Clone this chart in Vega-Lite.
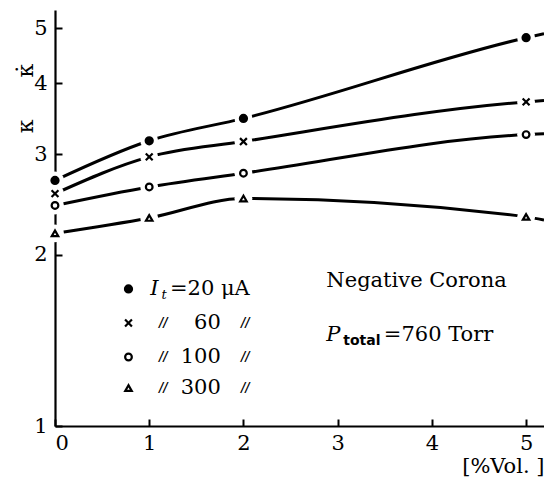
{
  "$schema": "https://vega.github.io/schema/vega-lite/v6.json",
  "width": 489,
  "height": 416,
  "autosize": {"type": "none"},
  "padding": {"left": 55, "top": 10, "right": 0, "bottom": 51},
  "background": "white",
  "config": {"view": {"stroke": null}, "font": "DejaVu Serif"},
  "datasets": {
    "curves": [
      {"s": "20", "x": 0, "k": 2.70}, {"s": "20", "x": 1, "k": 3.17}, {"s": "20", "x": 2, "k": 3.47}, {"s": "20", "x": 5, "k": 4.81}, {"s": "20", "x": 5.19, "k": 4.89},
      {"s": "60", "x": 0, "k": 2.56}, {"s": "60", "x": 1, "k": 2.97}, {"s": "60", "x": 2, "k": 3.16}, {"s": "60", "x": 5, "k": 3.71}, {"s": "60", "x": 5.19, "k": 3.73},
      {"s": "100", "x": 0, "k": 2.44}, {"s": "100", "x": 1, "k": 2.63}, {"s": "100", "x": 2, "k": 2.78}, {"s": "100", "x": 5, "k": 3.25}, {"s": "100", "x": 5.19, "k": 3.26},
      {"s": "300", "x": 0, "k": 2.18}, {"s": "300", "x": 1, "k": 2.32}, {"s": "300", "x": 2, "k": 2.51}, {"s": "300", "x": 5, "k": 2.33}, {"s": "300", "x": 5.19, "k": 2.30}
    ],
    "keys": [
      {"s": "20", "x": 0.78, "k": 1.741},
      {"s": "60", "x": 0.78, "k": 1.517},
      {"s": "100", "x": 0.78, "k": 1.322},
      {"s": "300", "x": 0.78, "k": 1.166}
    ],
    "notes": [
      {"g": "ital", "x": 1.01, "k": 1.741, "t": "I"},
      {"g": "sub", "x": 1.13, "k": 1.70, "t": "t"},
      {"g": "plain", "x": 1.22, "k": 1.741, "t": "=20 μA"},
      {"g": "ditto", "x": 1.15, "k": 1.517, "t": "//"},
      {"g": "ditto", "x": 1.15, "k": 1.322, "t": "//"},
      {"g": "ditto", "x": 1.15, "k": 1.166, "t": "//"},
      {"g": "ditto", "x": 2.02, "k": 1.517, "t": "//"},
      {"g": "ditto", "x": 2.02, "k": 1.322, "t": "//"},
      {"g": "ditto", "x": 2.02, "k": 1.166, "t": "//"},
      {"g": "num", "x": 1.76, "k": 1.517, "t": "60"},
      {"g": "num", "x": 1.76, "k": 1.322, "t": "100"},
      {"g": "num", "x": 1.76, "k": 1.166, "t": "300"},
      {"g": "plain", "x": 2.88, "k": 1.798, "t": "Negative  Corona"},
      {"g": "ital", "x": 2.88, "k": 1.445, "t": "P"},
      {"g": "subb", "x": 3.06, "k": 1.412, "t": "total"},
      {"g": "plain", "x": 3.49, "k": 1.445, "t": "=760 Torr"}
    ]
  },
  "encoding": {
    "x": {
      "field": "x", "type": "quantitative",
      "scale": {"domain": [0, 5.19], "nice": false, "zero": false},
      "axis": {
        "values": [0, 1, 2, 3, 4, 5], "grid": false, "tickSize": -7, "labelPadding": 13,
        "labelFontSize": 21, "labelColor": "black", "labelFont": "DejaVu Serif",
        "domainColor": "black", "domainWidth": 2.2, "tickColor": "black", "tickWidth": 2,
        "title": "[%Vol. ]", "titleFontSize": 21, "titleFontWeight": "normal", "titleColor": "black",
        "titleFont": "DejaVu Serif", "titleAnchor": "end", "titleAlign": "right",
        "titleX": 489, "titleY": 50, "titleBaseline": "bottom"
      }
    },
    "y": {
      "field": "k", "type": "quantitative",
      "scale": {"type": "log", "domain": [1, 5.38], "nice": false},
      "axis": {
        "values": [1, 2, 3, 4, 5], "format": "d", "grid": false, "tickSize": -7, "labelPadding": 15,
        "labelFontSize": 21, "labelColor": "black", "labelFont": "DejaVu Serif",
        "domainColor": "black", "domainWidth": 2.2, "tickColor": "black", "tickWidth": 2,
        "title": "κ\u00a0\u00a0\u00a0\u00a0\u00a0\u00a0κ̇", "titleAngle": 270, "titleFontSize": 22, "titleFontWeight": "normal",
        "titleColor": "black", "titleFont": "DejaVu Serif", "titleX": -30, "titleY": 88,
        "titleAlign": "center", "titleBaseline": "middle"
      }
    }
  },
  "layer": [
    {
      "data": {"name": "curves"},
      "mark": {"type": "line", "interpolate": "monotone", "color": "black", "strokeWidth": 3, "clip": true},
      "encoding": {"detail": {"field": "s"}}
    },
    {
      "data": {"name": "curves"},
      "transform": [{"filter": "datum.x <= 5"}],
      "mark": {"type": "point", "shape": "circle", "filled": true, "color": "white", "size": 320, "opacity": 1, "strokeWidth": 0}
    },
    {
      "data": {"name": "curves"},
      "transform": [{"filter": "datum.x <= 5"}],
      "mark": {"type": "point", "strokeWidth": 2.2, "opacity": 1, "stroke": "black"},
      "encoding": {
        "shape": {"field": "s", "type": "nominal", "legend": null,
          "scale": {"domain": ["20", "60", "100", "300"], "range": ["circle", "M-1,-1L1,1M-1,1L1,-1", "circle", "triangle-up"]}},
        "fill": {"field": "s", "type": "nominal", "legend": null,
          "scale": {"domain": ["20", "60", "100", "300"], "range": ["black", "black", "white", "white"]}},
        "size": {"field": "s", "type": "nominal", "legend": null,
          "scale": {"domain": ["20", "60", "100", "300"], "range": [50, 42, 40, 58]}}
      }
    },
    {
      "data": {"name": "keys"},
      "mark": {"type": "point", "strokeWidth": 2.2, "opacity": 1, "stroke": "black"},
      "encoding": {
        "shape": {"field": "s", "type": "nominal", "legend": null,
          "scale": {"domain": ["20", "60", "100", "300"], "range": ["circle", "M-1,-1L1,1M-1,1L1,-1", "circle", "triangle-up"]}},
        "fill": {"field": "s", "type": "nominal", "legend": null,
          "scale": {"domain": ["20", "60", "100", "300"], "range": ["black", "black", "white", "white"]}},
        "size": {"field": "s", "type": "nominal", "legend": null,
          "scale": {"domain": ["20", "60", "100", "300"], "range": [50, 42, 40, 58]}}
      }
    },
    {
      "data": {"name": "notes"},
      "transform": [{"filter": "datum.g == 'ital'"}],
      "mark": {"type": "text", "align": "left", "baseline": "middle", "fontSize": 21, "fontStyle": "italic", "font": "DejaVu Serif", "color": "black"},
      "encoding": {"text": {"field": "t"}}
    },
    {
      "data": {"name": "notes"},
      "transform": [{"filter": "datum.g == 'sub'"}],
      "mark": {"type": "text", "align": "left", "baseline": "middle", "fontSize": 13, "fontStyle": "italic", "font": "DejaVu Serif", "color": "black"},
      "encoding": {"text": {"field": "t"}}
    },
    {
      "data": {"name": "notes"},
      "transform": [{"filter": "datum.g == 'subb'"}],
      "mark": {"type": "text", "align": "left", "baseline": "middle", "fontSize": 14, "fontWeight": "bold", "font": "DejaVu Sans", "color": "black"},
      "encoding": {"text": {"field": "t"}}
    },
    {
      "data": {"name": "notes"},
      "transform": [{"filter": "datum.g == 'plain'"}],
      "mark": {"type": "text", "align": "left", "baseline": "middle", "fontSize": 21, "font": "DejaVu Serif", "color": "black"},
      "encoding": {"text": {"field": "t"}}
    },
    {
      "data": {"name": "notes"},
      "transform": [{"filter": "datum.g == 'num'"}],
      "mark": {"type": "text", "align": "right", "baseline": "middle", "fontSize": 21, "font": "DejaVu Serif", "color": "black"},
      "encoding": {"text": {"field": "t"}}
    },
    {
      "data": {"name": "notes"},
      "transform": [{"filter": "datum.g == 'ditto'"}],
      "mark": {"type": "text", "align": "center", "baseline": "middle", "fontSize": 12, "fontStyle": "italic", "fontWeight": "bold", "font": "DejaVu Serif", "color": "black"},
      "encoding": {"text": {"field": "t"}}
    }
  ]
}
